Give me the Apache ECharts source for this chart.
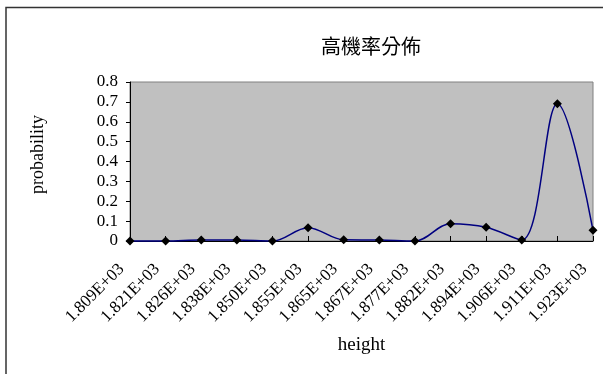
<!DOCTYPE html>
<html>
<head>
<meta charset="utf-8">
<script src="https://cdn.jsdelivr.net/npm/echarts@6/dist/echarts.min.js"></script>
<style>
  html, body { margin: 0; padding: 0; background: #ffffff; }
  #chart { width: 603px; height: 374px; }
</style>
</head>
<body>
<div id="chart"></div>
<script>
// Height classes (category labels) and their probabilities
var heights = ['1.809E+03', '1.821E+03', '1.826E+03', '1.838E+03', '1.850E+03', '1.855E+03', '1.865E+03',
               '1.867E+03', '1.877E+03', '1.882E+03', '1.894E+03', '1.906E+03', '1.911E+03', '1.923E+03'];
var probability = [0, 0, 0.005, 0.005, 0, 0.067, 0.006, 0.005, 0, 0.087, 0.069, 0.005, 0.69, 0.054];

var titleText = '高機率分佈';
var xTitle = 'height';
var yTitle = 'probability';

var serif = '"Liberation Serif", "Times New Roman", serif';

var chart = echarts.init(document.getElementById('chart'), null, { renderer: 'canvas' });

chart.setOption({
  backgroundColor: '#ffffff',
  animation: false,
  title: {
    text: titleText,
    left: 366,
    top: 31,
    textAlign: 'center',
    textStyle: {
      fontFamily: '"Noto Sans CJK TC", "Noto Sans CJK SC", sans-serif',
      fontSize: 20,
      fontWeight: 'normal',
      color: '#000000'
    }
  },
  graphic: [
    {
      type: 'rect',
      shape: { x: 6, y: 7.5, width: 640, height: 420 },
      style: { fill: 'none', stroke: '#333333', lineWidth: 1.5 },
      silent: true
    },
    {
      type: 'text',
      left: 29,
      top: 115,
      rotation: Math.PI / 2,
      style: {
        text: yTitle,
        font: '18px ' + serif,
        fill: '#000000'
      }
    }
  ],
  grid: {
    left: 130,
    right: 10,
    top: 82,
    bottom: 133,
    show: true,
    backgroundColor: '#c0c0c0',
    borderColor: '#808080',
    borderWidth: 1
  },
  xAxis: {
    type: 'category',
    data: heights,
    boundaryGap: false,
    name: xTitle,
    nameLocation: 'middle',
    nameGap: 95,
    nameTextStyle: { fontFamily: serif, fontSize: 19, color: '#000000' },
    axisLine: { show: true, lineStyle: { color: '#000000', width: 1 } },
    axisTick: { show: true, inside: true, length: 5, alignWithLabel: true, lineStyle: { color: '#000000' } },
    axisLabel: {
      interval: 0,
      rotate: 45,
      margin: 17,
      padding: [0, 12, 0, 0],
      fontFamily: serif,
      fontSize: 17,
      color: '#000000'
    },
    splitLine: { show: false }
  },
  yAxis: {
    type: 'value',
    min: 0,
    max: 0.8,
    interval: 0.1,
    axisLine: { show: true, lineStyle: { color: '#000000', width: 1 } },
    axisTick: { show: true, inside: false, length: 4, lineStyle: { color: '#000000' } },
    axisLabel: {
      margin: 12,
      fontFamily: serif,
      fontSize: 17,
      color: '#000000'
    },
    splitLine: { show: false }
  },
  series: [
    {
      type: 'line',
      data: probability,
      smooth: 0.35,
      lineStyle: { color: '#000080', width: 1.5 },
      itemStyle: { color: '#000000' },
      symbol: 'diamond',
      symbolSize: 9,
      showSymbol: true,
      clip: false
    }
  ]
});
</script>
</body>
</html>
